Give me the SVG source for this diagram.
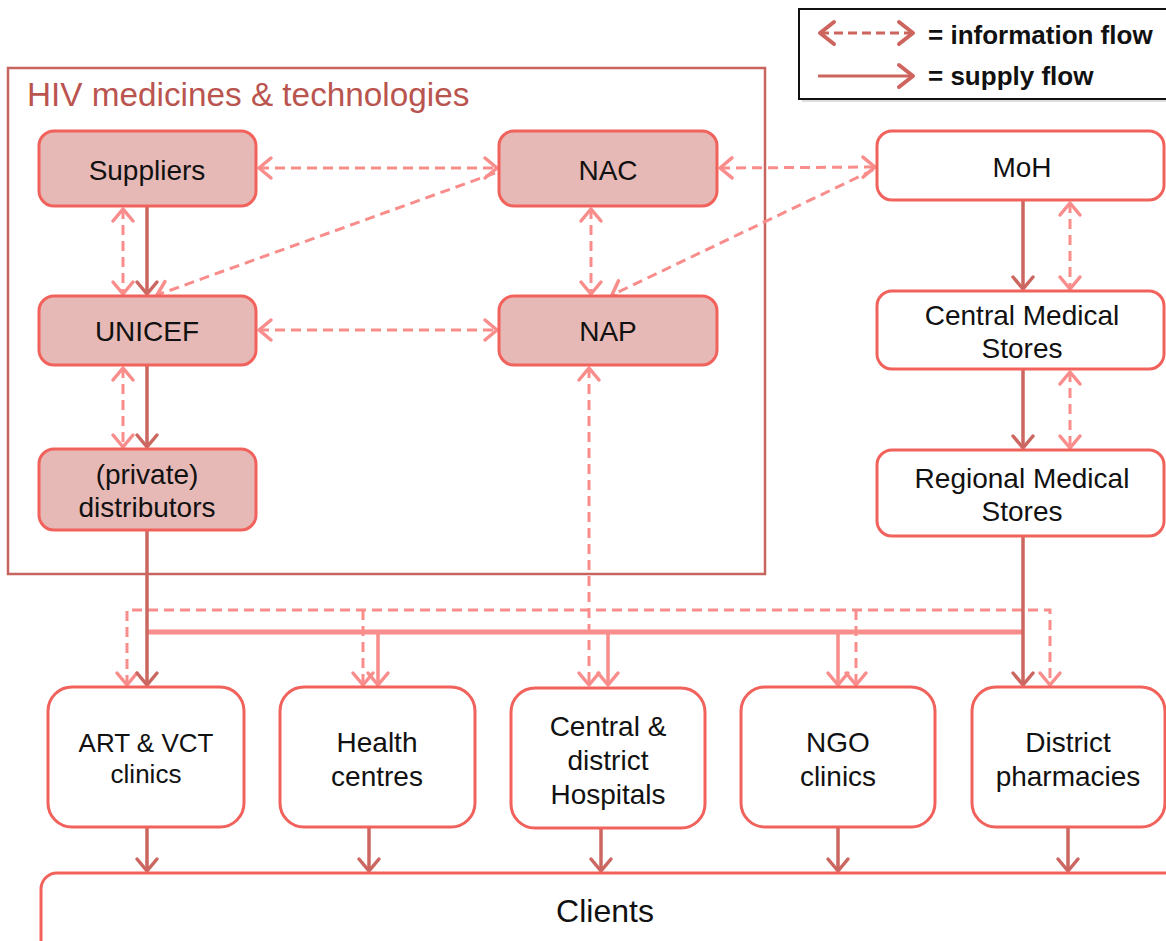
<svg xmlns="http://www.w3.org/2000/svg" width="1166" height="941" viewBox="0 0 1166 941">
  <defs>
    <style>
      .lbl { font-family: "Liberation Sans", Arial, sans-serif; font-size: 28px; fill: #111; text-anchor: middle; }
      .lbl-sm { font-size: 26px; }
      .lbl-lg { font-size: 32px; }
      .box-pink { fill: #e7b9b6; stroke: #f2625c; stroke-width: 3; }
      .box-white { fill: #ffffff; stroke: #f2625c; stroke-width: 3; }
      .info { fill: none; stroke: #f98d8c; stroke-width: 3; stroke-dasharray: 10 6; }
      .supply { fill: none; stroke: #cb6760; stroke-width: 3.5; }
      .supply-lt { fill: none; stroke: #f98d8c; stroke-width: 3.5; }
      .bus { fill: none; stroke: #f98d8c; stroke-width: 5; }
      .legend-txt { font-family: "Liberation Sans", Arial, sans-serif; font-size: 26px; font-weight: bold; fill: #111; }
    </style>
    <!-- open chevron heads -->
    <marker id="hLight" markerUnits="userSpaceOnUse" viewBox="-16 -13 20 26" refX="0" refY="0" markerWidth="20" markerHeight="26" orient="auto-start-reverse">
      <path d="M-12,-10 L0,0 L-12,10" fill="none" stroke="#f98d8c" stroke-width="3.5" stroke-linecap="round" stroke-linejoin="round"/>
    </marker>
    <marker id="hDark" markerUnits="userSpaceOnUse" viewBox="-16 -13 20 26" refX="0" refY="0" markerWidth="20" markerHeight="26" orient="auto-start-reverse">
      <path d="M-12,-10 L0,0 L-12,10" fill="none" stroke="#cb6760" stroke-width="3.5" stroke-linecap="round" stroke-linejoin="round"/>
    </marker>
    <marker id="hLegend" markerUnits="userSpaceOnUse" viewBox="-18 -14 22 28" refX="0" refY="0" markerWidth="22" markerHeight="28" orient="auto-start-reverse">
      <path d="M-14,-11 L0,0 L-14,11" fill="none" stroke="#cd645d" stroke-width="4" stroke-linecap="round" stroke-linejoin="round"/>
    </marker>
  </defs>

  <rect width="1166" height="941" fill="#ffffff"/>

  <!-- legend -->
  <g id="legend">
    <rect x="802" y="12" width="370" height="90" fill="#c8c8c8" opacity="0.6"/>
    <rect x="799" y="9" width="370" height="90" fill="#ffffff" stroke="#111" stroke-width="2"/>
    <path d="M820,33 H913" fill="none" stroke="#cd645d" stroke-width="3" stroke-dasharray="9 5" marker-start="url(#hLegend)" marker-end="url(#hLegend)"/>
    <path d="M818,76 H913" fill="none" stroke="#cd645d" stroke-width="3" marker-end="url(#hLegend)"/>
    <text class="legend-txt" x="928" y="44">= information flow</text>
    <text class="legend-txt" x="928" y="85">= supply flow</text>
  </g>

  <!-- HIV medicines & technologies group frame -->
  <g id="hiv-group">
    <rect x="8" y="68" width="757" height="506" fill="none" stroke="#c8645e" stroke-width="2.5"/>
    <text x="27" y="106" font-family="Liberation Sans, Arial, sans-serif" font-size="33.3" fill="#b9544f">HIV medicines &amp; technologies</text>
  </g>

  <!-- connectors -->
  <g id="connectors">
    <!-- information flows -->
    <path class="info" d="M259,168 H497" marker-start="url(#hLight)" marker-end="url(#hLight)"/>
    <path class="info" d="M720,168 L875,167" marker-start="url(#hLight)" marker-end="url(#hLight)"/>
    <path class="info" d="M259,330 H497" marker-start="url(#hLight)" marker-end="url(#hLight)"/>
    <path class="info" d="M123,209 V294" marker-start="url(#hLight)" marker-end="url(#hLight)"/>
    <path class="info" d="M123,368 V447" marker-start="url(#hLight)" marker-end="url(#hLight)"/>
    <path class="info" d="M591,209 V294" marker-start="url(#hLight)" marker-end="url(#hLight)"/>
    <path class="info" d="M1070,203 V289" marker-start="url(#hLight)" marker-end="url(#hLight)"/>
    <path class="info" d="M1070,372 V448" marker-start="url(#hLight)" marker-end="url(#hLight)"/>
    <path class="info" d="M495,173 L157,295" marker-end="url(#hLight)"/>
    <path class="info" d="M873,170 L612,295" marker-end="url(#hLight)"/>
    <path class="info" d="M589,368 V685" marker-start="url(#hLight)" marker-end="url(#hLight)"/>
    <path class="info" d="M127,685 V610 H1050 V685" marker-start="url(#hLight)" marker-end="url(#hLight)"/>
    <path class="info" d="M363,610 V685" marker-end="url(#hLight)"/>
    <path class="info" d="M856,610 V685" marker-end="url(#hLight)"/>

    <!-- supply flows -->
    <path class="bus" d="M147,632 H1022"/>
    <path class="supply-lt" d="M378,632 V685" marker-end="url(#hLight)"/>
    <path class="supply-lt" d="M608,632 V685" marker-end="url(#hLight)"/>
    <path class="supply-lt" d="M838,632 V685" marker-end="url(#hLight)"/>

    <path class="supply" d="M147,207 V294" marker-end="url(#hDark)"/>
    <path class="supply" d="M147,366 V447" marker-end="url(#hDark)"/>
    <path class="supply" d="M147,531 V685" marker-end="url(#hDark)"/>
    <path class="supply" d="M1023,201 V289" marker-end="url(#hDark)"/>
    <path class="supply" d="M1023,370 V448" marker-end="url(#hDark)"/>
    <path class="supply" d="M1023,537 V685" marker-end="url(#hDark)"/>

    <path class="supply" d="M147,828 V871" marker-end="url(#hDark)"/>
    <path class="supply" d="M369,828 V871" marker-end="url(#hDark)"/>
    <path class="supply" d="M601,829 V871" marker-end="url(#hDark)"/>
    <path class="supply" d="M838,828 V871" marker-end="url(#hDark)"/>
    <path class="supply" d="M1068,828 V871" marker-end="url(#hDark)"/>
  </g>

  <!-- nodes inside the HIV group -->
  <g id="suppliers">
    <rect class="box-pink" x="39" y="131" width="217" height="75" rx="15"/>
    <text class="lbl" x="147" y="180">Suppliers</text>
  </g>
  <g id="nac">
    <rect class="box-pink" x="499" y="131" width="218" height="75" rx="15"/>
    <text class="lbl" x="608" y="180">NAC</text>
  </g>
  <g id="unicef">
    <rect class="box-pink" x="39" y="296" width="217" height="69" rx="15"/>
    <text class="lbl" x="147" y="341">UNICEF</text>
  </g>
  <g id="nap">
    <rect class="box-pink" x="499" y="296" width="218" height="69" rx="15"/>
    <text class="lbl" x="608" y="341">NAP</text>
  </g>
  <g id="distributors">
    <rect class="box-pink" x="39" y="449" width="217" height="81" rx="15"/>
    <text class="lbl" x="147" y="484">(private)</text>
    <text class="lbl" x="147" y="517">distributors</text>
  </g>

  <!-- government chain -->
  <g id="moh">
    <rect class="box-white" x="877" y="131" width="287" height="69" rx="15"/>
    <text class="lbl" x="1022" y="177">MoH</text>
  </g>
  <g id="central-medical-stores">
    <rect class="box-white" x="877" y="291" width="287" height="78" rx="15"/>
    <text class="lbl" x="1022" y="325">Central Medical</text>
    <text class="lbl" x="1022" y="358">Stores</text>
  </g>
  <g id="regional-medical-stores">
    <rect class="box-white" x="877" y="450" width="287" height="86" rx="15"/>
    <text class="lbl" x="1022" y="488">Regional Medical</text>
    <text class="lbl" x="1022" y="521">Stores</text>
  </g>

  <!-- service delivery points -->
  <g id="art-vct-clinics">
    <rect class="box-white" x="48" y="687" width="196" height="140" rx="24"/>
    <text class="lbl lbl-sm" x="146" y="752">ART &amp; VCT</text>
    <text class="lbl lbl-sm" x="146" y="783">clinics</text>
  </g>
  <g id="health-centres">
    <rect class="box-white" x="280" y="687" width="195" height="140" rx="24"/>
    <text class="lbl" x="377" y="752">Health</text>
    <text class="lbl" x="377" y="786">centres</text>
  </g>
  <g id="hospitals">
    <rect class="box-white" x="511" y="688" width="194" height="140" rx="24"/>
    <text class="lbl" x="608" y="736">Central &amp;</text>
    <text class="lbl" x="608" y="770">district</text>
    <text class="lbl" x="608" y="804">Hospitals</text>
  </g>
  <g id="ngo-clinics">
    <rect class="box-white" x="741" y="687" width="194" height="140" rx="24"/>
    <text class="lbl" x="838" y="752">NGO</text>
    <text class="lbl" x="838" y="786">clinics</text>
  </g>
  <g id="district-pharmacies">
    <rect class="box-white" x="972" y="687" width="193" height="140" rx="24"/>
    <text class="lbl" x="1068" y="752">District</text>
    <text class="lbl" x="1068" y="786">pharmacies</text>
  </g>

  <g id="clients">
    <rect class="box-white" x="41" y="873" width="1140" height="90" rx="16"/>
    <text class="lbl lbl-lg" x="605" y="922">Clients</text>
  </g>
</svg>
